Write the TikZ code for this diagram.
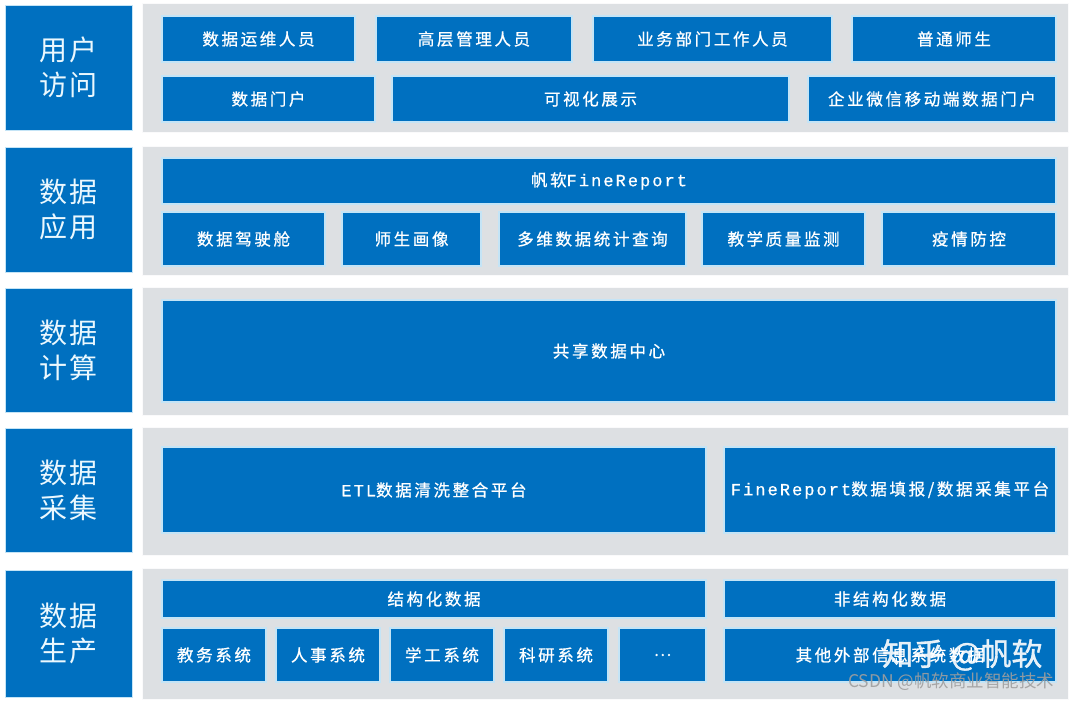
\documentclass[tikz,border=0pt]{standalone}
\usepackage{fontspec}
\usepackage{tikz}
\usetikzlibrary{positioning, calc}
\newfontfamily\cjk[LetterSpace=16, FakeBold=0.8]{Noto Sans CJK SC}
\newfontfamily\cjkbig[LetterSpace=8]{Noto Sans CJK SC}
\newfontfamily\cjkmark[FakeBold=1.2]{Noto Sans CJK SC}
\newfontfamily\cjkfoot{Noto Sans CJK SC}
\newfontfamily\latmono[LetterSpace=12, FakeBold=0.6]{Liberation Mono}
\definecolor{archblue}{RGB}{0, 112, 192}
\definecolor{archgray}{RGB}{221, 224, 227}
\definecolor{archedge}{RGB}{196, 228, 246}
\newcommand{\mono}[1]{{\latmono\fontsize{17}{18}\selectfont #1}}

\begin{document}
\begin{tikzpicture}[x=1pt, y=-1pt,
  lbl/.style={fill=archblue, draw=archedge, line width=1pt, minimum width=127pt, align=center, inner sep=0pt, text=white!92!cyan, font=\cjkbig\fontsize{28}{35}\selectfont},
  panel/.style={fill=archgray, draw=white!85!archgray, line width=1pt, minimum width=926pt, inner sep=0pt},
  cell/.style={fill=archblue, draw=archedge, line width=1.2pt, inner sep=0pt, text=white, font=\cjk\fontsize{16.5}{18}\selectfont}
]
  \useasboundingbox[fill=white] (0,0) rectangle (1072,702);

  % layer 1: user access
  \node[lbl, minimum height=125pt] (l1) at (68.5, 67.5) {用户\\访问};
  \node[panel, minimum height=129pt] (p1) at (605, 67.5) {};
  \node[cell, minimum width=193pt, minimum height=46pt] (ops) at (258.5, 39) {数据运维人员};
  \node[cell, minimum width=196pt, minimum height=46pt] (mgmt) at (474, 39) {高层管理人员};
  \node[cell, minimum width=239pt, minimum height=46pt] (dept) at (712.5, 39) {业务部门工作人员};
  \node[cell, minimum width=204pt, minimum height=46pt] (users) at (954, 39) {普通师生};
  \node[cell, minimum width=213pt, minimum height=46pt] (portal) at (268.5, 99) {数据门户};
  \node[cell, minimum width=397pt, minimum height=46pt] (vis) at (590.5, 99) {可视化展示};
  \node[cell, minimum width=248pt, minimum height=46pt] (mobile) at (932, 99) {企业微信移动端数据门户};

  % layer 2: data application
  \node[lbl, minimum height=125pt] (l2) at (68.5, 209.5) {数据\\应用};
  \node[panel, minimum height=129pt] (p2) at (605, 210.5) {};
  \node[cell, minimum width=894pt, minimum height=46pt] (fr) at (609, 181) {帆软\mono{FineReport}};
  \node[cell, minimum width=163pt, minimum height=54pt] (cockpit) at (243.5, 239) {数据驾驶舱};
  \node[cell, minimum width=139pt, minimum height=54pt] (portrait) at (411.5, 239) {师生画像};
  \node[cell, minimum width=187pt, minimum height=54pt] (query) at (592.5, 239) {多维数据统计查询};
  \node[cell, minimum width=163pt, minimum height=54pt] (quality) at (783.5, 239) {教学质量监测};
  \node[cell, minimum width=174pt, minimum height=54pt] (epidemic) at (969, 239) {疫情防控};

  % layer 3: data computing
  \node[lbl, minimum height=124pt] (l3) at (68.5, 350) {数据\\计算};
  \node[panel, minimum height=128pt] (p3) at (605, 351) {};
  \node[cell, minimum width=894pt, minimum height=102pt] (center) at (609, 351) {共享数据中心};

  % layer 4: data collection
  \node[lbl, minimum height=124pt] (l4) at (68.5, 490) {数据\\采集};
  \node[panel, minimum height=128pt] (p4) at (605, 491) {};
  \node[cell, minimum width=544pt, minimum height=86pt] (etl) at (434, 490) {\mono{ETL}数据清洗整合平台};
  \node[cell, minimum width=332pt, minimum height=86pt] (fill) at (890, 490) {\mono{FineReport}数据填报/数据采集平台};

  % layer 5: data production
  \node[lbl, minimum height=127pt] (l5) at (68.5, 633.5) {数据\\生产};
  \node[panel, minimum height=131pt] (p5) at (605, 633.5) {};
  \node[cell, minimum width=544pt, minimum height=38pt] (struct) at (434, 599) {结构化数据};
  \node[cell, minimum width=332pt, minimum height=38pt] (unstruct) at (890, 599) {非结构化数据};
  \node[cell, minimum width=104pt, minimum height=54pt] (edu) at (214, 655) {教务系统};
  \node[cell, minimum width=104pt, minimum height=54pt] (hr) at (328, 655) {人事系统};
  \node[cell, minimum width=104pt, minimum height=54pt] (stu) at (442, 655) {学工系统};
  \node[cell, minimum width=104pt, minimum height=54pt] (res) at (556, 655) {科研系统};
  \node[cell, minimum width=87pt, minimum height=54pt] (more) at (662.5, 655) {\dots};
  \node[cell, minimum width=332pt, minimum height=54pt] (ext) at (890, 655) {其他外部信息系统数据};

  % watermarks
  \node[text=white, opacity=0.9, font=\cjkmark\fontsize{31}{32}\selectfont, anchor=east] (wm1) at (1046, 655) {知乎 @帆软};
  \node[text=gray!75, opacity=0.9, font=\cjkfoot\fontsize{17.5}{18}\selectfont, anchor=east] (wm2) at (1058, 682) {CSDN @帆软商业智能技术};
\end{tikzpicture}
\end{document}
